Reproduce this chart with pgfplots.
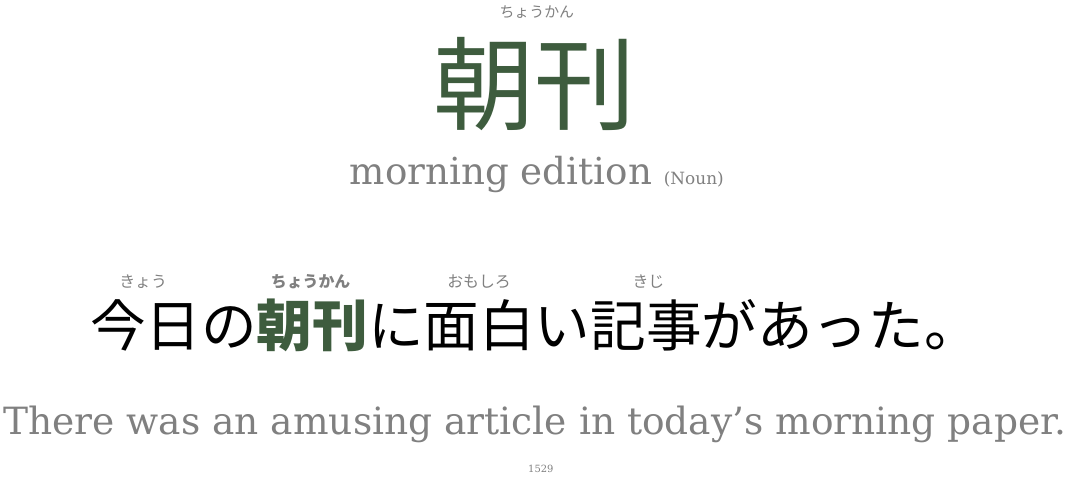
\documentclass[border=0pt]{standalone}
\usepackage{pgfplots}
\pgfplotsset{compat=1.18}
\usepackage{fontspec}
\setmainfont{DejaVu Serif}
\newfontfamily\cjk{Noto Sans CJK JP}
\newfontfamily\cjksans{Noto Sans CJK JP}
\definecolor{kgreen}{HTML}{3E5C3E}
\definecolor{tgray}{HTML}{808080}
\begin{document}
\begin{tikzpicture}
\begin{axis}[width=1071bp,height=501bp,scale only axis,xmin=0,xmax=1071,ymin=0,ymax=501,y dir=reverse,hide axis,clip=false]
\addplot[draw=none] coordinates {(0,0) (1071,501)};
\draw[draw=none] (axis cs:0,0) rectangle (axis cs:1071,501);
\node[tgray,font=\cjksans\fontsize{15}{15}\selectfont] at (axis cs:535,12) {ちょうかん};
\node[kgreen,font=\cjk\fontsize{102}{102}\selectfont] at (axis cs:533,84) {朝刊};
\node[tgray,font=\fontsize{37.5}{37.5}\selectfont,anchor=base] at (axis cs:535,185) {morning edition {\fontsize{17}{17}\selectfont(Noun)}};
\node[tgray,font=\cjksans\fontsize{16}{16}\selectfont] at (axis cs:140,283) {きょう};
\node[tgray,font=\cjksans\bfseries\fontsize{16}{16}\selectfont] at (axis cs:308,283) {ちょうかん};
\node[tgray,font=\cjksans\fontsize{16}{16}\selectfont] at (axis cs:477,283) {おもしろ};
\node[tgray,font=\cjksans\fontsize{16}{16}\selectfont] at (axis cs:647,283) {きじ};
\node[font=\cjk\fontsize{56}{56}\selectfont,inner sep=0pt] at (axis cs:533,326) {今日の\textcolor{kgreen}{\bfseries 朝刊}に面白い記事があった。};
\node[tgray,font=\fontsize{37.8}{37.8}\selectfont,anchor=base] at (axis cs:533,436) {There was an amusing article in today\symbol{39}s morning paper.};
\node[tgray,font=\fontsize{10}{10}\selectfont] at (axis cs:539,470) {1529};
\end{axis}
\end{tikzpicture}
\end{document}
